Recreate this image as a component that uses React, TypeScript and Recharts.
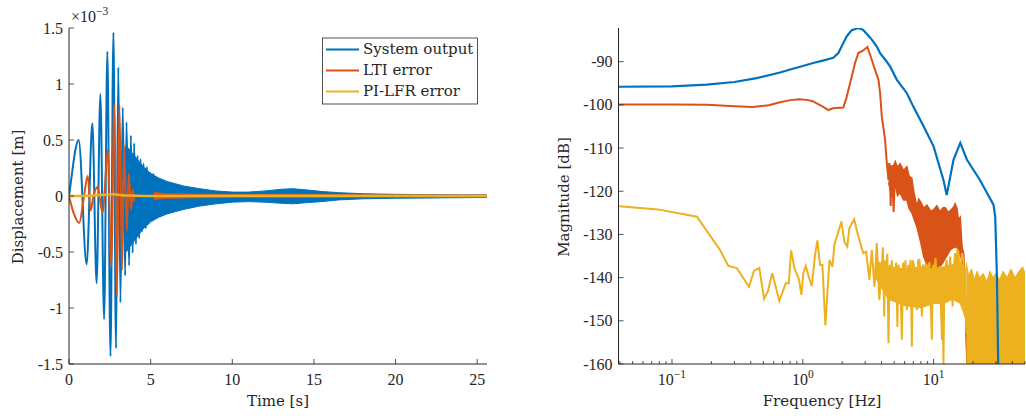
import React from 'react';
import { ComposedChart, Line, Area, XAxis, YAxis } from 'recharts';

const BLUE = '#0072BD';
const ORANGE = '#D95319';
const YELLOW = '#EDB120';
const AXIS = '#262626';
const TICK_FONT = '"Liberation Serif", serif';
const LABEL_FONT = '"DejaVu Serif", serif';

// ---- time response (displacement in 1e-3 m) ----
const sysTime = [0, 0.2, 0.4, 0.59, 1.08, 1.43, 1.69, 1.92, 2.15, 2.35, 2.54, 2.72, 2.88, 3.02, 3.15, 3.29, 3.44, 3.52, 3.68, 3.79, 3.9, 3.99, 4.1, 4.2, 4.3, 4.38, 4.47, 4.56, 4.71, 4.77, 4.88, 4.97, 5.1, 5.16];
const sysDisp = [0, 0.22, 0.42, 0.5, -0.61, 0.65, -0.78, 0.91, -1.1, 1.29, -1.43, 1.46, -1.36, 1.15, -0.95, 0.79, -0.71, 0.66, -0.62, 0.54, -0.51, 0.47, -0.43, 0.36, -0.38, 0.33, -0.32, 0.29, -0.29, 0.26, -0.25, 0.21, -0.22, 0.2];

// dense oscillation after ~3.3 s, drawn as its envelope
const sysBandTime = [3.3, 3.5, 4, 4.5, 5, 5.5, 6, 6.5, 7, 8, 9, 10, 11, 12, 13, 13.7, 14.5, 15.5, 16.5, 18, 20, 22, 24, 25.6];
const sysBandHigh = [0.2, 0.45, 0.36, 0.27, 0.2, 0.16, 0.13, 0.11, 0.09, 0.065, 0.045, 0.035, 0.035, 0.045, 0.06, 0.065, 0.055, 0.04, 0.03, 0.02, 0.015, 0.012, 0.01, 0.01];
const sysBandLow = [-0.2, -0.5, -0.4, -0.3, -0.23, -0.19, -0.16, -0.14, -0.12, -0.09, -0.07, -0.055, -0.05, -0.055, -0.065, -0.07, -0.06, -0.05, -0.035, -0.025, -0.02, -0.018, -0.015, -0.013];

const ltiTime = [0, 0.3, 0.63, 0.9, 1.15, 1.32, 1.5, 1.75, 2.05, 2.39, 2.58, 2.78, 2.93, 3.09, 3.25, 3.37, 3.54, 3.66, 3.8, 3.9, 4.0];
const ltiDisp = [0, -0.16, -0.24, -0.02, 0.18, -0.13, 0.0, 0.08, -0.15, 0.41, -0.63, 0.82, -0.89, 0.81, -0.66, 0.45, -0.31, 0.2, -0.12, 0.06, -0.05];
const ltiBandTime = [3.9, 5, 6, 10, 13.5, 18, 25.6];
const ltiBandHigh = [0.05, 0.035, 0.02, 0.012, 0.016, 0.01, 0.008];
const ltiBandLow = [-0.05, -0.035, -0.02, -0.012, -0.015, -0.01, -0.008];

const lfrTime = [0, 1.5, 2.7, 3.5, 6, 13.5, 25.6];
const lfrDisp = [0, 0.005, 0.015, 0.005, 0, 0.003, 0];

const timeTicks = [0, 5, 10, 15, 20, 25];
const dispTicks = [-1.5, -1, -0.5, 0, 0.5, 1, 1.5];

// ---- magnitude spectra (dB) ----
const sysFreq = [0.039, 0.1, 0.184, 0.3, 0.444, 0.67, 0.8, 1.0, 1.2, 1.45, 1.71, 1.87, 2.04, 2.17, 2.37, 2.66, 2.88, 3.12, 3.37, 3.68, 3.9, 4.26, 4.65, 5.24, 6.25, 7.0, 8.4, 10.0, 11.9, 12.6, 14.2, 16.0, 18.0, 22.6, 28.7, 29.6, 30.5, 31.2];
const sysMag = [-95.8, -95.7, -95.3, -94.7, -93.8, -92.5, -91.8, -91.0, -90.3, -89.7, -89.1, -88.0, -85.7, -84.1, -82.7, -82.2, -82.6, -83.7, -84.9, -86.5, -88.0, -89.5, -91.1, -94.2, -97.3, -100.4, -105.0, -109.6, -117.4, -120.9, -112.7, -108.8, -112.7, -117.4, -123.1, -125.9, -139.8, -160];

const ltiFreq = [0.039, 0.1, 0.184, 0.3, 0.417, 0.55, 0.67, 0.8, 0.95, 1.1, 1.2, 1.4, 1.57, 1.7, 1.8, 2.04, 2.15, 2.3, 2.51, 2.66, 2.9, 3.12, 3.27, 3.57, 3.79, 3.9, 4.02, 4.26, 4.39, 4.52, 4.6, 4.7, 4.8, 4.95, 5.1];
const ltiMag = [-99.9, -99.9, -100.0, -100.3, -100.5, -100.1, -99.4, -98.9, -98.7, -98.9, -99.2, -100.3, -101.2, -100.8, -100.7, -100.6, -98.5, -95.0, -90.3, -88.0, -87.4, -86.6, -88.4, -91.9, -94.2, -97.3, -102.7, -108.1, -113.5, -117.4, -113.5, -123.4, -114.0, -124.8, -114.0];
const ltiNoiseFreq = [4.52, 4.8, 5.1, 5.3, 5.55, 5.9, 6.25, 6.5, 6.82, 7.1, 7.45, 7.7, 8.0, 8.4, 8.9, 9.5, 10.0, 10.6, 11.2, 11.8, 12.3, 12.9, 13.4, 14.2, 14.6, 15.1, 15.5, 16.0, 16.5, 17.0, 17.4, 18.0];
const ltiNoiseHigh = [-113.5, -115, -113.1, -114.5, -113.6, -115.2, -114.3, -116.5, -117.0, -120.5, -123.5, -121.8, -122.6, -123.9, -123.2, -124.6, -124.3, -123.4, -124.7, -123.8, -123.8, -124.9, -124.5, -123.7, -122.9, -124.0, -126.6, -126.0, -132.8, -134.5, -139.8, -160];
const ltiNoiseLow = [-118, -121, -118.5, -121, -120.4, -122, -122.0, -124, -125.0, -126.5, -128.2, -130, -132.0, -135.1, -137.0, -138.0, -138.2, -138, -137.4, -136.5, -135.5, -134.5, -133.6, -133.0, -133, -132.8, -134.0, -135, -135.9, -140, -145.0, -160];

const lfrFreq = [0.0395, 0.078, 0.155, 0.233, 0.27, 0.313, 0.388, 0.424, 0.465, 0.506, 0.54, 0.585, 0.662, 0.741, 0.782, 0.814, 0.863, 0.937, 0.976, 1.01, 1.054, 1.117, 1.172, 1.242, 1.293, 1.356, 1.413, 1.489, 1.599, 1.685, 1.745, 1.84, 1.974, 2.08, 2.19, 2.27, 2.3, 2.47, 2.62, 2.75, 2.9, 3.05, 3.23, 3.37, 3.53, 3.68, 3.85,
  4.02, 4.1, 4.19, 4.27, 4.34, 4.43, 4.52, 4.62, 4.71, 4.8, 4.88, 4.98, 5.08, 5.18, 5.29, 5.38, 5.48, 5.6, 5.72, 5.85, 5.97, 6.1, 6.24, 6.4, 6.54, 6.68, 6.82, 6.95, 7.1, 7.28, 7.45, 7.62, 7.8, 7.97, 8.14, 8.3, 8.49, 8.7, 8.9, 9.1, 9.3, 9.5, 9.7, 9.9, 10.1, 10.35, 10.6, 10.85, 11.1, 11.35, 11.6, 11.75, 11.9, 12.1, 12.3, 12.6, 12.9, 13.15, 13.4, 13.7, 14.0, 14.3, 14.6, 14.9, 15.2, 15.5, 15.8, 16.2, 16.5, 16.9, 17.2, 17.5, 17.8];
const lfrMag = [-123.5, -124.2, -125.9, -133.6, -137.3, -137.8, -142.1, -138.4, -137.8, -144.9, -143.2, -139.0, -145.4, -141.3, -141.3, -133.7, -137.8, -140.5, -144.0, -139.0, -137.3, -140.1, -141.9, -134.7, -131.4, -137.1, -137.1, -151.1, -135.9, -137.5, -132.4, -130.1, -127.0, -131.7, -132.8, -128.5, -128.2, -126.5, -129.7, -132.0, -134.3, -134.0, -140.5, -133.6, -142.1, -132.0, -145.2,
  -137.4, -133.0, -149.0, -136.0, -139.8, -134.5, -155.2, -137.0, -141.3, -136.0, -145.2, -137.5, -139.8, -136.5, -151.4, -137.0, -138.2, -143.0, -154.4, -136.5, -140.5, -136.0, -147.5, -137.0, -138.6, -135.9, -156.0, -136.0, -137.4, -143.0, -147.5, -136.0, -135.9, -142.0, -149.0, -137.0, -139.8, -136.5, -144.4, -137.0, -136.7, -145.0, -154.4, -137.0, -139.0, -135.5, -142.9, -138.0, -137.4, -146.0, -154.4, -145.0, -160.0, -140.0, -138.2, -135.9, -142.9, -139.0, -135.1, -141.0, -146.7, -138.0, -134.3, -140.0, -133.6, -134.0, -139.8, -137.0, -134.3, -135.9, -141.3, -145.0, -152.9];
const lfrCoreFreq = [3.6, 4.5, 6, 8, 10, 12, 14, 16, 17.8];
const lfrCoreHigh = [-136, -137.5, -138, -137.5, -138, -137.5, -137, -136.5, -138];
const lfrCoreLow = [-140, -145, -146.5, -147, -146, -146, -145, -146, -150];
const lfrNoiseFreq = [17.8, 18.5, 19.5, 20.5, 21.5, 22.5, 24, 25.5, 27, 28.5, 30, 32, 34, 36.5, 39, 42, 45, 48, 50];
const lfrNoiseHigh = [-136.5, -139.5, -138, -140.5, -138.5, -140, -139, -141, -138.5, -140, -139, -140.5, -138.5, -140, -138, -140, -138.5, -137.5, -139];
const lfrNoiseLow = [-160, -160, -160, -160, -160, -160, -160, -160, -160, -160, -160, -160, -160, -160, -160, -160, -160, -160, -160];

const magTicks = [-160, -150, -140, -130, -120, -110, -100, -90];
const freqTicks = [0.04, 0.05, 0.06, 0.07, 0.08, 0.09, 0.1, 0.2, 0.3, 0.4, 0.5, 0.6, 0.7, 0.8, 0.9, 1, 2, 3, 4, 5, 6, 7, 8, 9, 10, 20, 30, 40, 50];
const freqDecades = [0.1, 1, 10];

const pts = (xs: number[], ys: number[]) => xs.map((x, i) => ({ x, y: ys[i] }));
const band = (xs: number[], hi: number[], lo: number[]) => xs.map((x, i) => ({ x, hi: hi[i], lo: lo[i] }));
const range = (d: any) => [d.lo, d.hi];

const LeftTick = ({ x, y, payload }: any) => (
  <g>
    <line x1={x} y1={y} x2={x + 5} y2={y} stroke={AXIS} strokeWidth={0.8} />
    <text x={x - 6} y={y} dy="0.35em" textAnchor="end" fontFamily={TICK_FONT} fontSize={16} fill={AXIS}>
      {String(payload.value)}
    </text>
  </g>
);

const TimeTick = ({ x, y, payload }: any) => (
  <g>
    <line x1={x} y1={y} x2={x} y2={y - 5} stroke={AXIS} strokeWidth={0.8} />
    <text x={x} y={y + 21} textAnchor="middle" fontFamily={TICK_FONT} fontSize={16} fill={AXIS}>
      {String(payload.value)}
    </text>
  </g>
);

const FreqTick = ({ x, y, payload }: any) => {
  const v = payload.value;
  const major = freqDecades.includes(v);
  const exp = Math.round(Math.log10(v));
  return (
    <g>
      <line x1={x} y1={y} x2={x} y2={y - (major ? 5 : 3)} stroke={AXIS} strokeWidth={0.8} />
      {major && (
        <text x={x} y={y + 21} textAnchor="middle" fontFamily={TICK_FONT} fontSize={16} fill={AXIS}>
          10<tspan dy={-7} fontSize={11.5}>{exp < 0 ? '\u2212' + Math.abs(exp) : String(exp)}</tspan>
        </text>
      )}
    </g>
  );
};

export default function App() {
  return (
    <div style={{ position: 'absolute', left: 0, top: 0, width: 1026, height: 416, background: '#fff' }}>
      <div style={{ position: 'absolute', left: 0, top: 0 }}>
        <ComposedChart width={500} height={416} margin={{ top: 28, right: 13, bottom: 22, left: 0 }}>
          <XAxis type="number" dataKey="x" domain={[0, 25.6]} ticks={timeTicks} interval={0}
            tick={<TimeTick />} tickLine={false} tickSize={0} tickMargin={0} height={30}
            axisLine={{ stroke: AXIS, strokeWidth: 1 }} allowDataOverflow />
          <YAxis type="number" domain={[-1.5, 1.5]} ticks={dispTicks} interval={0}
            tick={<LeftTick />} tickLine={false} tickSize={0} tickMargin={0} width={69}
            axisLine={{ stroke: AXIS, strokeWidth: 1 }} allowDataOverflow />
          <Area data={band(sysBandTime, sysBandHigh, sysBandLow)} dataKey={range} type="linear"
            fill={BLUE} fillOpacity={1} stroke={BLUE} strokeWidth={1} isAnimationActive={false} />
          <Line data={pts(sysTime, sysDisp)} dataKey="y" type="monotone" stroke={BLUE} strokeWidth={2}
            dot={false} activeDot={false} isAnimationActive={false} />
          <Area data={band(ltiBandTime, ltiBandHigh, ltiBandLow)} dataKey={range} type="linear"
            fill={ORANGE} fillOpacity={1} stroke={ORANGE} strokeWidth={1} isAnimationActive={false} />
          <Line data={pts(ltiTime, ltiDisp)} dataKey="y" type="monotone" stroke={ORANGE} strokeWidth={2}
            dot={false} activeDot={false} isAnimationActive={false} />
          <Line data={pts(lfrTime, lfrDisp)} dataKey="y" type="monotone" stroke={YELLOW} strokeWidth={2.5}
            dot={false} activeDot={false} isAnimationActive={false} />
        </ComposedChart>
      </div>

      <div style={{ position: 'absolute', left: 540, top: 0 }}>
        <ComposedChart width={486} height={416} margin={{ top: 28, right: 1, bottom: 22, left: 0 }}>
          <XAxis type="number" dataKey="x" scale="log" domain={[0.039, 50]} ticks={freqTicks} interval={0}
            tick={<FreqTick />} tickLine={false} tickSize={0} tickMargin={0} height={30}
            axisLine={{ stroke: AXIS, strokeWidth: 1 }} allowDataOverflow />
          <YAxis type="number" domain={[-160, -82.2]} ticks={magTicks} interval={0}
            tick={<LeftTick />} tickLine={false} tickSize={0} tickMargin={0} width={78.5}
            axisLine={{ stroke: AXIS, strokeWidth: 1 }} allowDataOverflow />
          <Line data={pts(sysFreq, sysMag)} dataKey="y" type="linear" stroke={BLUE} strokeWidth={2.2}
            dot={false} activeDot={false} isAnimationActive={false} />
          <Line data={pts(ltiFreq, ltiMag)} dataKey="y" type="linear" stroke={ORANGE} strokeWidth={2}
            dot={false} activeDot={false} isAnimationActive={false} />
          <Area data={band(ltiNoiseFreq, ltiNoiseHigh, ltiNoiseLow)} dataKey={range} type="linear"
            fill={ORANGE} fillOpacity={1} stroke={ORANGE} strokeWidth={1.5} isAnimationActive={false} />
          <Area data={band(lfrCoreFreq, lfrCoreHigh, lfrCoreLow)} dataKey={range} type="linear"
            fill={YELLOW} fillOpacity={1} stroke={YELLOW} strokeWidth={1} isAnimationActive={false} />
          <Area data={band(lfrNoiseFreq, lfrNoiseHigh, lfrNoiseLow)} dataKey={range} type="linear"
            fill={YELLOW} fillOpacity={1} stroke={YELLOW} strokeWidth={1} isAnimationActive={false} />
          <Line data={pts(lfrFreq, lfrMag)} dataKey="y" type="linear" stroke={YELLOW} strokeWidth={2}
            dot={false} activeDot={false} isAnimationActive={false} />
        </ComposedChart>
      </div>

      <svg width={1026} height={416} style={{ position: 'absolute', left: 0, top: 0, pointerEvents: 'none' }}>
        <text x={71} y={21.5} fontFamily={TICK_FONT} fontSize={16} fill={AXIS}>
          ×10<tspan dy={-7} fontSize={11.5}>{'\u22123'}</tspan>
        </text>
        <text x={278} y={406} textAnchor="middle" fontFamily={LABEL_FONT} fontSize={15} fill={AXIS}>Time [s]</text>
        <text transform="translate(23,197) rotate(-90)" textAnchor="middle" fontFamily={LABEL_FONT} fontSize={15} fill={AXIS}>Displacement [m]</text>
        <text x={822} y={406} textAnchor="middle" fontFamily={LABEL_FONT} fontSize={15} fill={AXIS}>Frequency [Hz]</text>
        <text transform="translate(569,197) rotate(-90)" textAnchor="middle" fontFamily={LABEL_FONT} fontSize={15} fill={AXIS}>Magnitude [dB]</text>

        <rect x={322.5} y={38} width={155} height={66} fill="#fff" stroke={AXIS} strokeWidth={0.8} />
        <line x1={326} y1={49.5} x2={359} y2={49.5} stroke={BLUE} strokeWidth={2} />
        <line x1={326} y1={70.5} x2={359} y2={70.5} stroke={ORANGE} strokeWidth={2} />
        <line x1={326} y1={91.5} x2={359} y2={91.5} stroke={YELLOW} strokeWidth={2} />
        <text x={363} y={54} fontFamily={LABEL_FONT} fontSize={15} fill={AXIS}>System output</text>
        <text x={363} y={75} fontFamily={LABEL_FONT} fontSize={15} fill={AXIS}>LTI error</text>
        <text x={363} y={96} fontFamily={LABEL_FONT} fontSize={15} fill={AXIS}>PI-LFR error</text>
      </svg>
    </div>
  );
}
